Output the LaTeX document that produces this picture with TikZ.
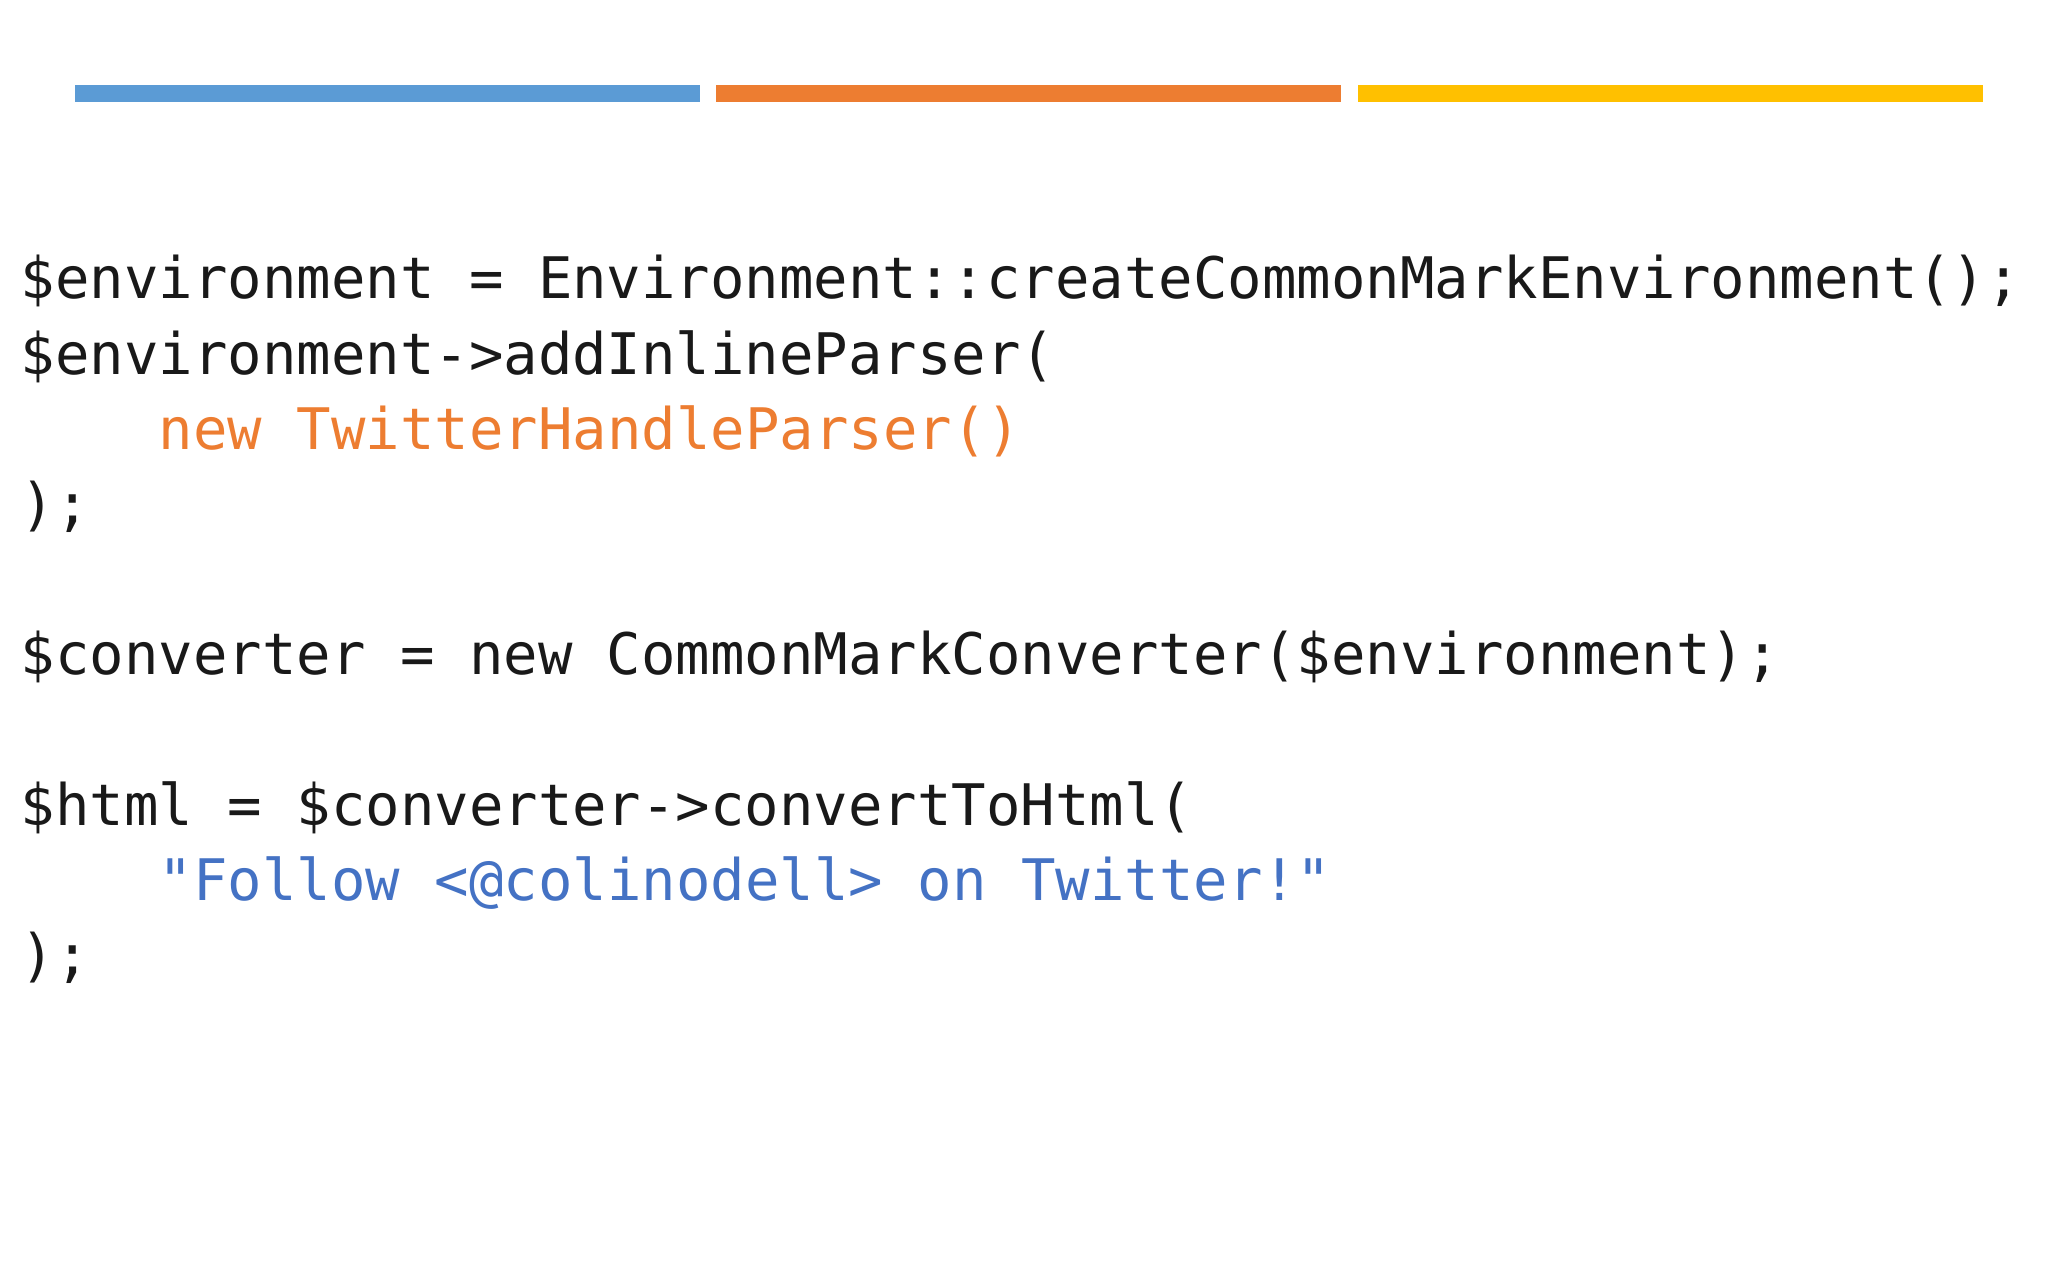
\documentclass[tikz,border=0pt]{standalone}
\usepackage{fontspec}
\newfontfamily\code{DejaVu Sans Mono}
\definecolor{bblue}{HTML}{5B9BD5}
\definecolor{borange}{HTML}{ED7D31}
\definecolor{byellow}{HTML}{FFC000}
\definecolor{sblue}{HTML}{4472C4}
\begin{document}
\begin{tikzpicture}[x=1cm,y=1cm,
  ln/.style={anchor=base west,inner sep=0pt,font=\code\fontsize{16.3pt}{18pt}\selectfont,text=black!90}]
\useasboundingbox[fill=white] (0,0) rectangle (20.48,12.8);
\fill[bblue] (0.75,11.78) rectangle (7.00,11.95);
\fill[borange] (7.16,11.78) rectangle (13.41,11.95);
\fill[byellow] (13.58,11.78) rectangle (19.83,11.95);
\def\dy{0.752}
\node[ln] (l1) at (0.2,9.81) {\$environment = Environment::createCommonMarkEnvironment();};
\node[ln] (l2) at (0.2,9.81-\dy) {\$environment->addInlineParser(};
\node[ln,text=borange] (l3) at (0.2+4*0.3455,9.81-2*\dy) {new TwitterHandleParser()};
\node[ln] (l4) at (0.2,9.81-3*\dy) {);};
\node[ln] (l6) at (0.2,9.81-5*\dy) {\$converter = new CommonMarkConverter(\$environment);};
\node[ln] (l8) at (0.2,9.81-7*\dy) {\$html = \$converter->convertToHtml(};
\node[ln,text=sblue] (l9) at (0.2+4*0.3455,9.81-8*\dy) {"Follow <@colinodell> on Twitter!"};
\node[ln] (l10) at (0.2,9.81-9*\dy) {);};
\end{tikzpicture}
\end{document}
